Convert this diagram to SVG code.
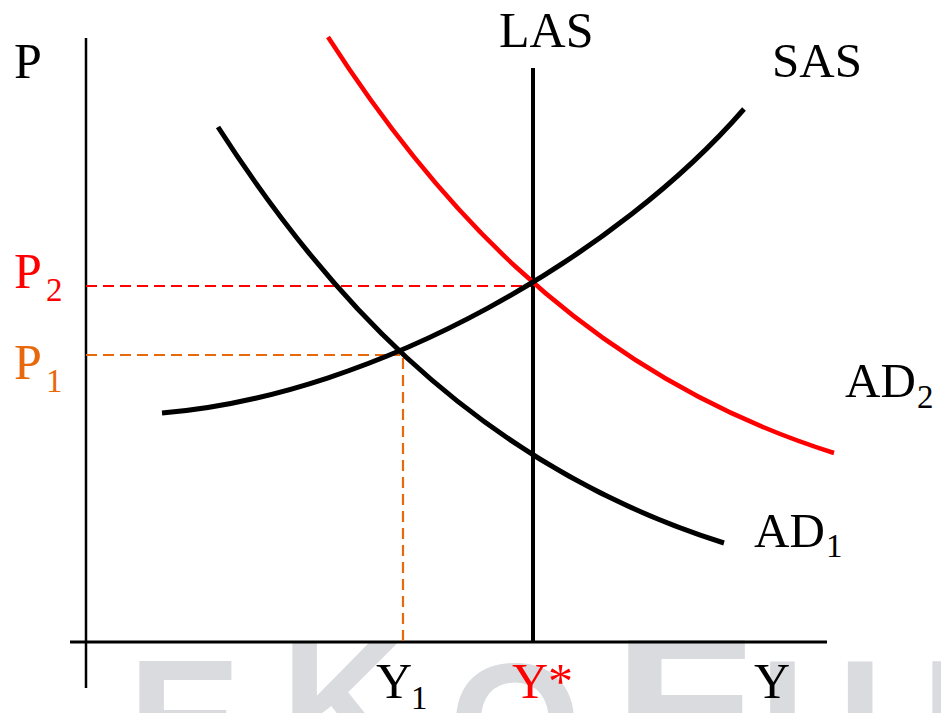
<svg xmlns="http://www.w3.org/2000/svg" width="941" height="713" viewBox="0 0 941 713">
<style>
text.lbl{font-family:"Liberation Serif",serif;font-size:50px;fill:#000}
tspan.sub{font-size:33px}
text.red{fill:#ff0000}
text.org{fill:#e8680c}
text.wm{font-family:"Liberation Sans",sans-serif;font-weight:bold;font-size:170px;fill:#d9dbde}
.curve{fill:none;stroke:#000;stroke-width:5;stroke-linecap:butt}
.axis{stroke:#000;fill:none}
.dash{fill:none;stroke-width:2.2;stroke-dasharray:11 6}
</style>
<rect width="941" height="713" fill="#ffffff"/>
<g id="watermark">
<text class="wm" x="128" y="779">E</text>
<text class="wm" x="281" y="760">K</text>
<text class="wm" x="449" y="782">O</text>
<text class="wm" transform="translate(613,757) scale(1.35,1)">F</text>
<text class="wm" x="760" y="779">U</text>
<text class="wm" x="921" y="779">N</text>
</g>
<g id="axes">
<line class="axis" x1="86" y1="38" x2="86" y2="688" stroke-width="2.5"/>
<line class="axis" x1="70" y1="642" x2="827" y2="642" stroke-width="3"/>
</g>
<g id="guides">
<line class="dash" x1="86" y1="286" x2="533" y2="286" stroke="#ff0000"/>
<line class="dash" x1="86" y1="355" x2="400" y2="355" stroke="#e8680c"/>
<line class="dash" x1="403" y1="358" x2="403" y2="641" stroke="#e8680c"/>
</g>
<g id="connectors">
<line id="LAS-line" x1="533" y1="68" x2="533" y2="642" stroke="#000" stroke-width="4"/>
<path id="AD1-curve" class="curve" d="M218,127 C310,270 460,460 724,543"/>
<path id="AD2-curve" class="curve" style="stroke:#ff0000;stroke-width:4.5" transform="translate(110,-90)" d="M218,127 C310,270 460,460 724,543"/>
<path id="SAS-curve" class="curve" d="M162,413 C380,395 620,252 744,109"/>
</g>
<g id="labels" font-family="Liberation Serif, serif">
<g id="P"><text class="lbl" font-family="Liberation Serif" x="14" y="78">P</text></g>
<g id="LAS"><text class="lbl" font-family="Liberation Serif" x="499" y="47">LAS</text></g>
<g id="SAS"><text class="lbl" font-family="Liberation Serif" x="772" y="77" style="font-size:49px">SAS</text></g>
<g id="P2"><text class="lbl red" font-family="Liberation Serif" x="14" y="288">P<tspan class="sub" x="46" y="301">2</tspan></text></g>
<g id="P1"><text class="lbl org" font-family="Liberation Serif" x="14" y="379">P<tspan class="sub" x="46" y="392">1</tspan></text></g>
<g id="AD2"><text class="lbl" font-family="Liberation Serif" x="845" y="397" style="font-size:49px">AD<tspan class="sub" x="917" y="408">2</tspan></text></g>
<g id="AD1"><text class="lbl" font-family="Liberation Serif" x="754" y="547" style="font-size:49px">AD<tspan class="sub" x="826" y="557">1</tspan></text></g>
<g id="Y1"><text class="lbl" font-family="Liberation Serif" x="376" y="698">Y<tspan class="sub" x="411" y="709">1</tspan></text></g>
<g id="Ystar"><text class="lbl red" font-family="Liberation Serif" x="512" y="698">Y*</text></g>
<g id="Y"><text class="lbl" font-family="Liberation Serif" x="754" y="698">Y</text></g>
</g>
</svg>
